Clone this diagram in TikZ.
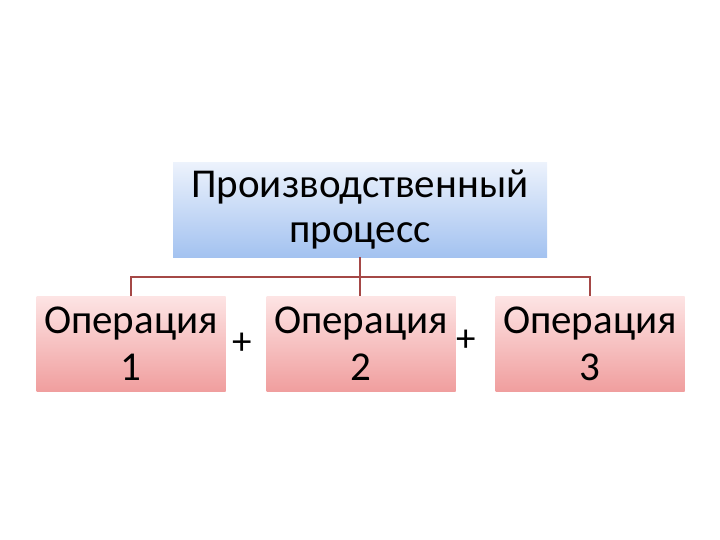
\documentclass[tikz,border=0pt]{standalone}
\usepackage{fontspec}
\setmainfont{Carlito}
\definecolor{topA}{RGB}{236,242,252}
\definecolor{topB}{RGB}{163,194,240}
\definecolor{pinkA}{RGB}{253,228,228}
\definecolor{pinkB}{RGB}{240,158,158}
\definecolor{linkc}{RGB}{165,72,70}
\begin{document}
\begin{tikzpicture}[x=1pt,y=-1pt,
  topbox/.style={top color=topA,bottom color=topB,draw=none,minimum width=374pt,minimum height=94pt,align=center,font=\fontsize{41}{45}\selectfont,inner sep=0pt},
  opbox/.style={top color=pinkA,bottom color=pinkB,draw=none,minimum width=189pt,minimum height=95pt,align=center,font=\fontsize{41}{47}\selectfont,inner sep=0pt},
  link/.style={draw=linkc,line width=1.5pt},
  plus/.style={font=\fontsize{39}{39}\selectfont,inner sep=0pt}]
\useasboundingbox (0,0) rectangle (720,540);
\node[topbox] (top) at (360,210) {Производственный\\процесс};
\node[opbox] (o1) at (131,344) {Операция\\1};
\node[opbox] (o2) at (361,344) {Операция\\2};
\node[opbox] (o3) at (590,344) {Операция\\3};
\coordinate (j) at (360,277);
\draw[link] (top.south) -- (j);
\draw[link] (o1.north) |- (j) -| (o3.north);
\draw[link] (j) -- (j |- o2.north);
\node[plus] (p1) at (242,344) {+};
\node[plus] (p2) at (466,341) {+};
\end{tikzpicture}
\end{document}
